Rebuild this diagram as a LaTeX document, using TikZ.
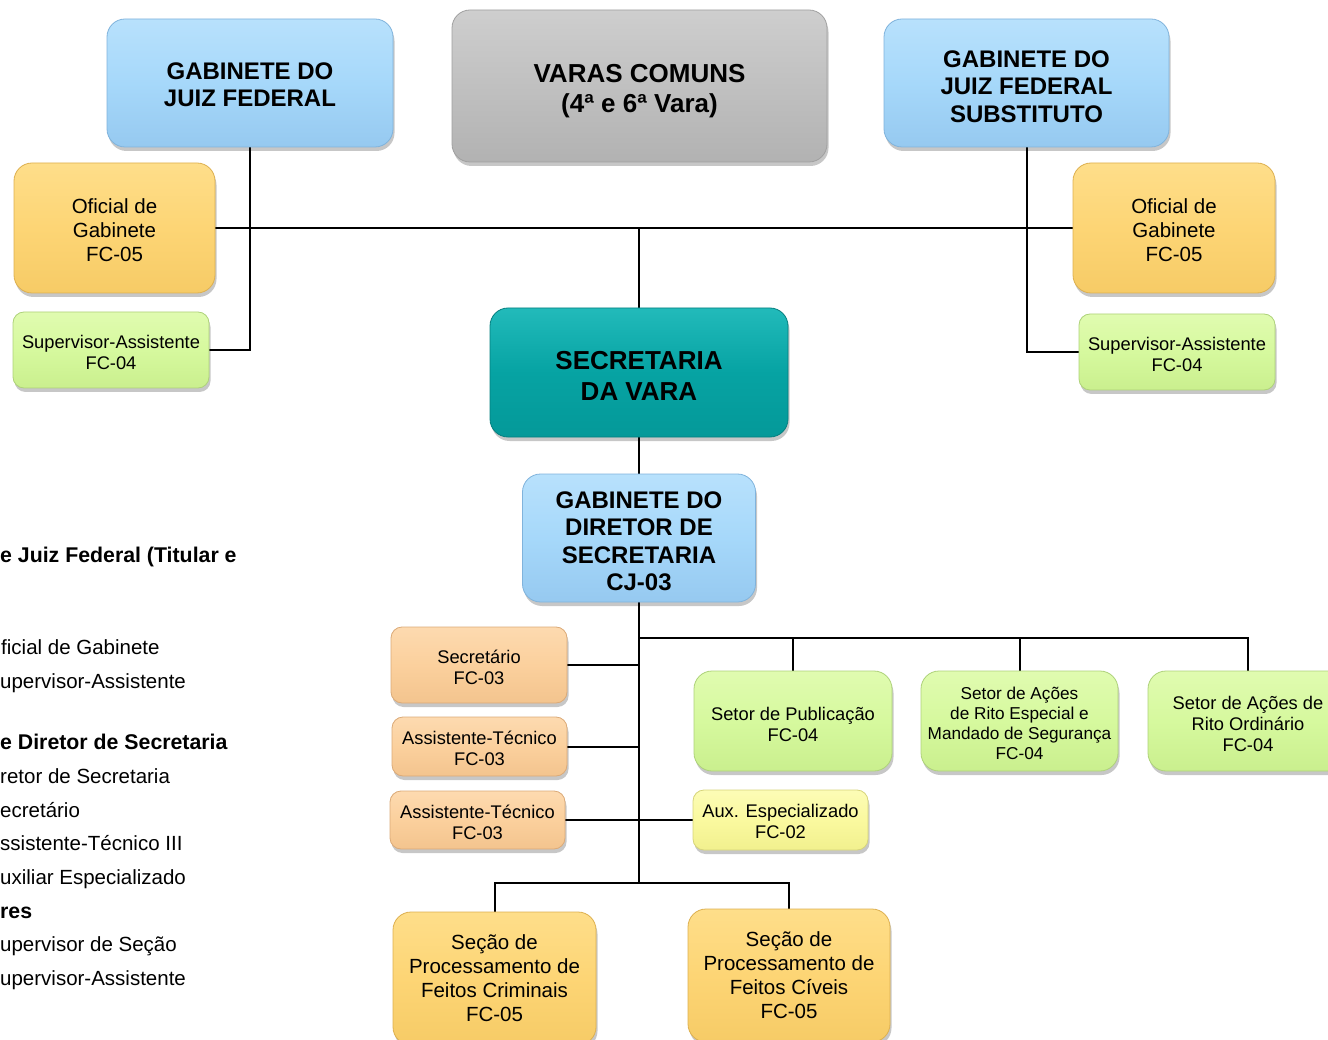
\documentclass[tikz,border=0pt]{standalone}
\usepackage{fontspec}
\setmainfont{Liberation Sans}
\usetikzlibrary{shadows,backgrounds}
\definecolor{blu}{HTML}{A6D8FA}\definecolor{bluT}{HTML}{B8E1FC}\definecolor{bluB}{HTML}{96C9F0}\definecolor{bluD}{HTML}{80B3DC}
\definecolor{gry}{HTML}{C0C0C0}\definecolor{gryT}{HTML}{CECECE}\definecolor{gryB}{HTML}{B2B2B2}\definecolor{gryD}{HTML}{A0A0A0}
\definecolor{tea}{HTML}{06A3A3}\definecolor{teaT}{HTML}{22BABA}\definecolor{teaB}{HTML}{059999}\definecolor{teaD}{HTML}{047F7F}
\definecolor{org}{HTML}{FDD575}\definecolor{orgT}{HTML}{FEDE8A}\definecolor{orgB}{HTML}{F6CB66}\definecolor{orgD}{HTML}{DDB050}
\definecolor{grn}{HTML}{D6F99E}\definecolor{grnT}{HTML}{E0FBB0}\definecolor{grnB}{HTML}{CAEF8E}\definecolor{grnD}{HTML}{AED27A}
\definecolor{pch}{HTML}{FBD09D}\definecolor{pchT}{HTML}{FDDAB0}\definecolor{pchB}{HTML}{F3C48E}\definecolor{pchD}{HTML}{DBAA78}
\definecolor{ylw}{HTML}{FAF99F}\definecolor{ylwT}{HTML}{FCFCB6}\definecolor{ylwB}{HTML}{F1F08E}\definecolor{ylwD}{HTML}{D6D47A}
\newcommand\fhb{\fontsize{24}{27.5}\selectfont\bfseries}
\newcommand\fvc{\fontsize{26}{30.5}\selectfont\bfseries}
\newcommand\freg{\fontsize{20.5}{24}\selectfont}
\newcommand\fsm{\fontsize{18.3}{21}\selectfont}
\newcommand\fxs{\fontsize{17.2}{20}\selectfont}
\newcommand\flb{\fontsize{21.3}{25}\selectfont\bfseries}
\newcommand\flr{\fontsize{20.5}{24}\selectfont}
\newcommand\tls[1][0.98em]{\rule{0pt}{#1}}
\tikzset{
  bx/.style={rectangle, align=center, inner sep=0pt, line width=0.8pt,
    drop shadow={shadow xshift=1.5pt, shadow yshift=-4pt, opacity=0.22, fill=black}},
  big/.style={bx, rounded corners=18pt},
  sml/.style={bx, rounded corners=11pt},
  cblu/.style={draw=bluD, top color=bluT, bottom color=bluB, middle color=blu},
  cgry/.style={draw=gryD, top color=gryT, bottom color=gryB, middle color=gry},
  ctea/.style={draw=teaD, top color=teaT, bottom color=teaB, middle color=tea},
  corg/.style={draw=orgD, top color=orgT, bottom color=orgB, middle color=org},
  cgrn/.style={draw=grnD, top color=grnT, bottom color=grnB, middle color=grn},
  cpch/.style={draw=pchD, top color=pchT, bottom color=pchB, middle color=pch},
  cylw/.style={draw=ylwD, top color=ylwT, bottom color=ylwB, middle color=ylw},
  ln/.style={line width=2pt, black},
  lt/.style={anchor=base west, inner sep=0pt, font=\flr},
  ltb/.style={anchor=base west, inner sep=0pt, font=\flb}
}
\begin{document}
\begin{tikzpicture}[x=1pt,y=-1pt]
\useasboundingbox (0,0) rectangle (1328,1040);
\clip (0,0) rectangle (1328,1040);

% left legend (cut off)
\node[ltb] (t1) at (0,562) {e Juiz Federal (Titular e};
\node[lt] (t2) at (1,654) {ficial de Gabinete};
\node[lt] (t3) at (0,688) {upervisor-Assistente};
\node[ltb] (t4) at (0,749) {e Diretor de Secretaria};
\node[lt] (t5) at (0,783) {retor de Secretaria};
\node[lt] (t6) at (0,817) {ecretário};
\node[lt] (t7) at (0,850) {ssistente-Técnico III};
\node[lt] (t8) at (0,884) {uxiliar Especializado};
\node[ltb] (t9) at (0,918) {res};
\node[lt] (t10) at (0,951) {upervisor de Seção};
\node[lt] (t11) at (0,985) {upervisor-Assistente};

% top row
\node[big,cblu,minimum width=286pt,minimum height=128pt,font=\fhb] (gjf) at (250,83) {\tls[0.83em]GABINETE DO\\JUIZ FEDERAL};
\node[big,cgry,minimum width=375pt,minimum height=152pt,font=\fvc] (vc) at (639.5,86) {\tls[1.1em]VARAS COMUNS\\(4ª e 6ª Vara)};
\node[big,cblu,minimum width=285pt,minimum height=128pt,font=\fhb] (gjfs) at (1026.5,83) {\tls GABINETE DO\\JUIZ FEDERAL\\SUBSTITUTO};

\node[big,corg,minimum width=201pt,minimum height=130pt,font=\freg] (ofl) at (114.5,228) {\tls Oficial de\\Gabinete\\FC-05};
\node[sml,cgrn,minimum width=196pt,minimum height=76pt,font=\fsm] (supl) at (111,350) {\tls Supervisor-Assistente\\FC-04};
\node[big,corg,minimum width=202pt,minimum height=130pt,font=\freg] (ofr) at (1174,228) {\tls Oficial de\\Gabinete\\FC-05};
\node[sml,cgrn,minimum width=196pt,minimum height=76pt,font=\fsm] (supr) at (1177,352) {\tls Supervisor-Assistente\\FC-04};

\node[big,ctea,minimum width=298pt,minimum height=129pt,font=\fvc] (sec) at (639,372.5) {\tls[0.95em]SECRETARIA\\DA VARA};
\node[big,cblu,minimum width=233pt,minimum height=128pt,font=\fhb] (gds) at (639,538) {\tls GABINETE DO\\DIRETOR DE\\SECRETARIA\\CJ-03};

\node[sml,cpch,minimum width=176pt,minimum height=76pt,font=\fsm] (secr) at (479,665) {\tls Secretário\\FC-03};
\node[sml,cpch,minimum width=175pt,minimum height=59pt,font=\fsm] (ass1) at (479.5,746.5) {\tls Assistente-Técnico\\FC-03};
\node[sml,cpch,minimum width=175pt,minimum height=58pt,font=\fsm] (ass2) at (477.5,820) {\tls Assistente-Técnico\\FC-03};

\node[big,cgrn,minimum width=198pt,minimum height=100pt,font=\fsm] (spub) at (793,721) {\tls[1.05em]Setor de Publicação\\FC-04};
\node[big,cgrn,minimum width=197pt,minimum height=100pt,font=\fxs] (sre) at (1019.5,721) {\tls[1.05em]Setor de Ações\\de Rito Especial e\\Mandado de Segurança\\FC-04};
\node[big,cgrn,minimum width=200pt,minimum height=100pt,font=\fsm] (sro) at (1248,721) {\tls[1.1em]Setor de Ações de\\Rito Ordinário\\FC-04};
\node[sml,cylw,minimum width=175pt,minimum height=60pt,font=\fsm] (aux) at (780.5,820) {\tls[0.9em]Aux. Especializado\\FC-02};

\node[big,corg,minimum width=203pt,minimum height=133pt,font=\freg] (scr) at (494.5,978.5) {Seção de\\Processamento de\\Feitos Criminais\\FC-05};
\node[big,corg,minimum width=202pt,minimum height=133pt,font=\freg] (sci) at (789,975.5) {Seção de\\Processamento de\\Feitos Cíveis\\FC-05};

% connectors
\coordinate (bus) at (639,638);
\coordinate (busb) at (639,883);
\begin{pgfonlayer}{background}
\draw[ln] (ofl.east) -- (ofr.west);
\draw[ln] (gjf.south) |- (supl.east);
\draw[ln] (gjfs.south) |- (supr.west);
\draw[ln] (sec.north) -- (sec.north |- ofl.east);
\draw[ln] (sec.south) -- (gds.north);
\draw[ln] (gds.south) -- (busb);
\draw[ln] (bus) -| (sro.north);
\draw[ln] (spub.north) -- (spub.north |- bus);
\draw[ln] (sre.north) -- (sre.north |- bus);
\draw[ln] (secr.east) -- (secr.east -| gds.south);
\draw[ln] (ass1.east) -- (ass1.east -| gds.south);
\draw[ln] (ass2.east) -- (aux.west);
\draw[ln] (scr.north) |- (busb) -| (sci.north);
\end{pgfonlayer}
\end{tikzpicture}
\end{document}
